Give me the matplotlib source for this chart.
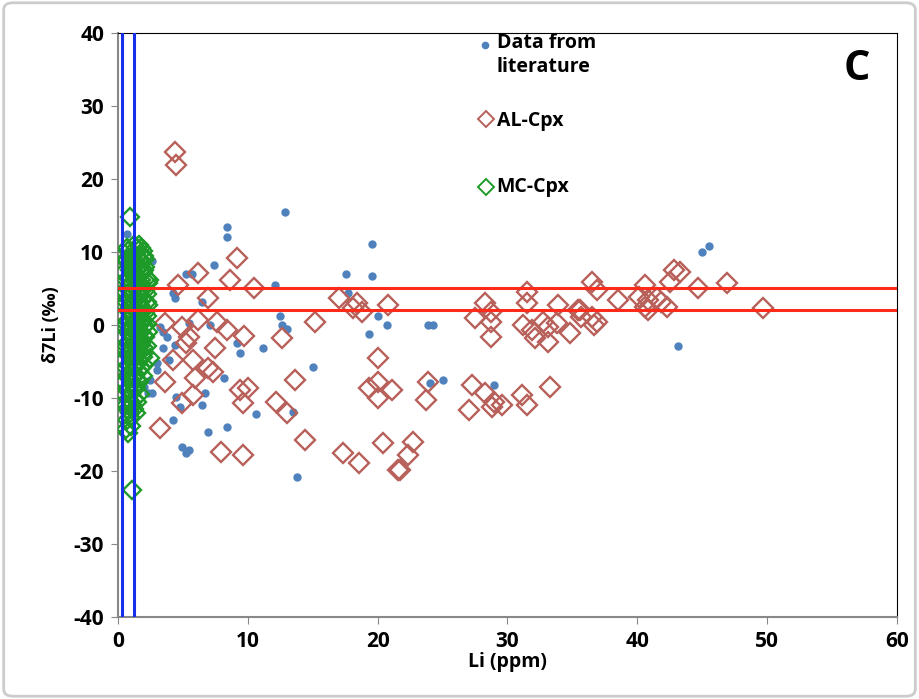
import matplotlib.pyplot as plt
from matplotlib.patches import FancyBboxPatch

plt.rcParams['font.family'] = ['Open Sans', 'DejaVu Sans']
plt.rcParams['font.weight'] = 'bold'
plt.rcParams['axes.unicode_minus'] = False

# Data from literature (blue dots)
lit_li = [12.9, 8.4, 8.4, 2.6, 7.4, 5.2, 5.7, 4.2, 4.4, 6.5, 3.2, 3.5, 3.8, 3.5, 4.4,
          5.5, 7.1, 9.2, 3.0, 3.0, 3.9, 2.5, 2.3, 2.6, 4.5, 4.8, 6.7, 6.5, 8.2, 4.2,
          6.9, 8.4, 4.9, 5.2, 5.5, 19.6, 17.6, 19.6, 12.1, 17.7, 12.5, 12.6, 13.0,
          20.0, 20.7, 19.3, 11.2, 9.4, 15.0, 10.6, 13.5, 13.8, 23.9, 24.3, 24.0, 25.0,
          29.0, 45.0, 45.5, 43.1, 0.7, 1.5, 0.9, 2.0, 1.2, 0.6, 1.8]
lit_d7li = [15.5, 13.4, 12.1, 8.8, 8.2, 7.0, 7.0, 4.4, 3.7, 3.2, -0.3, -1.0, -1.6, -3.2, -2.7,
            0.3, 0.0, -2.5, -5.2, -6.2, -4.8, -7.5, -9.3, -9.3, -9.9, -11.2, -9.3, -11.0, -7.3, -13.0,
            -14.7, -14.0, -16.7, -17.5, -17.1, 11.1, 7.0, 6.7, 5.5, 4.4, 1.2, 0.0, -0.5,
            1.2, 0.0, -1.2, -3.2, -3.8, -5.8, -12.2, -11.9, -20.8, 0.0, 0.0, -8.0, -7.5,
            -8.2, 10.0, 10.8, -2.9, 12.5, 6.0, -3.5, -8.5, -12.0, 9.0, 1.5]

# AL-Cpx (red diamonds)
al_li = [4.4, 4.5, 6.2, 4.6, 6.9, 8.6, 9.2, 6.2, 3.6, 4.9, 7.6, 8.4, 5.2, 5.5, 7.5,
         4.2, 5.8, 6.9, 7.3, 3.6, 5.9, 5.8, 4.9, 3.2, 7.9, 10.5, 17.0, 18.4, 18.8, 18.1,
         20.8, 15.2, 9.7, 12.6, 20.0, 13.6, 9.4, 10.0, 9.6, 12.2, 13.0, 20.0, 19.3, 21.1,
         20.0, 14.4, 17.3, 18.6, 20.4, 21.6, 9.6, 28.3, 28.7, 27.5, 28.7, 28.7, 31.5, 31.5,
         33.9, 31.2, 31.9, 32.7, 33.1, 32.1, 33.1, 33.8, 34.8, 35.6, 23.9, 23.7, 27.3, 28.3,
         29.0, 28.8, 29.6, 27.0, 31.1, 31.5, 33.3, 22.7, 22.3, 21.7, 36.5, 36.9, 38.5, 35.4,
         35.7, 36.5, 36.9, 36.7, 40.6, 40.1, 40.8, 40.6, 41.5, 41.8, 42.3, 42.5, 42.8, 43.3,
         44.7, 46.9, 49.7, 40.8]
al_d7li = [23.7, 21.9, 7.1, 5.5, 3.7, 6.2, 9.2, 0.7, 0.3, -0.3, 0.4, -0.7, -2.5, -1.6, -3.2,
           -4.8, -4.8, -5.9, -6.4, -7.8, -7.3, -9.6, -10.7, -14.1, -17.4, 5.1, 3.7, 3.0, 1.8, 2.3,
           2.7, 0.4, -1.5, -1.8, -4.5, -7.5, -8.9, -8.6, -10.7, -10.5, -12.1, -7.8, -8.6, -8.9,
           -10.0, -15.8, -17.5, -18.9, -16.2, -19.9, -17.8, 3.0, 1.8, 1.0, 0.4, -1.6, 4.5, 3.0,
           2.7, 0.0, -0.7, 0.4, -0.3, -1.8, -2.3, 0.3, -1.1, 2.1, -7.8, -10.3, -8.2, -9.3,
           -10.5, -11.2, -11.0, -11.6, -9.6, -11.0, -8.5, -16.0, -17.8, -19.9, 5.9, 4.8, 3.4, 2.1,
           1.1, 1.1, 0.4, 0.0, 5.5, 3.8, 3.4, 2.5, 3.7, 3.2, 2.5, 5.9, 7.5, 7.3,
           5.1, 5.8, 2.3, 2.1]

# MC-Cpx (green diamonds)
mc_li = [0.9, 1.2, 1.6, 0.8, 1.9, 1.1, 1.5, 2.0, 0.6, 1.3, 1.8, 0.9, 1.6, 2.1,
         0.5, 1.2, 1.9, 0.8, 1.5, 2.2, 0.4, 1.1, 1.7, 2.3, 0.7, 1.4, 2.0,
         0.5, 1.0, 1.6, 2.2, 0.8, 1.3, 1.9, 0.0, 0.5, 1.1, 1.7, 2.3, 0.8, 1.4, 2.0,
         0.4, 1.0, 1.6, 2.2, 0.7, 1.3, 1.9, 0.5, 1.0, 1.5, 2.1, 0.8, 1.3, 1.8, 2.3,
         0.4, 1.1, 1.6, 2.1, 0.7, 1.2, 1.8, 0.5, 1.0, 1.5, 2.0, 0.8, 1.3, 1.9, 2.5,
         0.5, 1.1, 1.6, 0.8, 1.4, 2.0, 0.4, 1.0, 1.6, 0.7, 1.3, 1.9, 0.5, 1.1, 1.6,
         0.8, 1.4, 0.5, 1.0, 1.7, 0.8, 1.3, 0.6, 1.1, 0.9, 1.4, 0.7, 1.0, 0.8, 1.1,
         0.7, 1.4, 1.8, 0.6, 1.0, 1.7, 2.1, 0.9, 1.5, 2.0, 0.6, 1.2, 1.8, 2.4,
         0.9, 1.5, 2.1, 0.6, 1.2, 1.7, 2.2, 0.9, 1.5, 2.1, 0.6, 1.2, 1.8, 2.2,
         0.9, 1.5, 2.0, 0.6, 1.2, 1.7, 2.2, 0.9, 1.4, 1.9, 0.6, 1.2, 1.8,
         0.9, 1.5, 0.7, 1.2, 1.0, 1.5, 0.7, 1.2, 0.9, 0.6]
mc_d7li = [14.8, 11.0, 11.0, 10.2, 10.2, 9.5, 9.5, 9.5, 8.7, 8.7, 8.7, 8.0, 8.0, 8.0,
           7.2, 7.2, 7.2, 6.5, 6.5, 6.5, 5.8, 5.8, 5.8, 5.8, 5.0, 5.0, 5.0,
           4.3, 4.3, 4.3, 4.3, 3.5, 3.5, 3.5, 3.0, 2.8, 2.8, 2.8, 2.8, 2.0, 2.0, 2.0,
           1.3, 1.3, 1.3, 1.3, 0.5, 0.5, 0.5, -0.2, -0.2, -0.2, -0.2, -1.0, -1.0, -1.0, -1.0,
           -1.7, -1.7, -1.7, -1.7, -2.5, -2.5, -2.5, -3.2, -3.2, -3.2, -3.2, -4.0, -4.0, -4.0, -4.5,
           -4.8, -4.8, -4.8, -5.5, -5.5, -5.5, -6.3, -6.3, -6.3, -7.0, -7.0, -7.0, -7.8, -7.8, -7.8,
           -8.6, -8.6, -9.4, -9.4, -9.4, -10.2, -10.2, -11.0, -11.0, -12.0, -12.0, -13.0, -13.8, -14.8, -22.6,
           10.6, 10.6, 10.6, 9.1, 9.1, 9.1, 9.1, 7.6, 7.6, 7.6, 6.1, 6.1, 6.1, 6.1,
           4.7, 4.7, 4.7, 3.2, 3.2, 3.2, 3.2, 1.6, 1.6, 1.6, 0.1, 0.1, 0.1, 0.1,
           -1.4, -1.4, -1.4, -2.9, -2.9, -2.9, -2.9, -4.4, -4.4, -4.4, -5.9, -5.9, -5.9,
           -7.4, -7.4, -8.9, -8.9, -10.6, -10.6, -11.5, -11.5, -12.6, -14.2]

# reference lines
v_lines = [0.3, 1.2]
h_lines = [2, 5]

fig = plt.figure(figsize=(9.19, 6.99), dpi=100)
ax = fig.add_axes([0.1284, 0.1173, 0.8476, 0.8355])

ax.plot(lit_li, lit_d7li, 'o', color='#4F81BD', markersize=5, zorder=3)
ax.plot(al_li, al_d7li, 'D', markerfacecolor='none', markeredgecolor='#B8605A',
        markersize=10, markeredgewidth=1.7, zorder=4)
ax.plot(mc_li, mc_d7li, 'D', markerfacecolor='none', markeredgecolor='#1E9A28',
        markersize=9, markeredgewidth=1.7, zorder=5)

for v in v_lines:
    ax.axvline(v, color='#1530E8', linewidth=2.2, zorder=6)
for h in h_lines:
    ax.axhline(h, color='#FF2A1A', linewidth=2.2, zorder=6)

ax.set_xlim(0, 60)
ax.set_ylim(-40, 40)
ax.set_xticks(range(0, 61, 10))
ax.set_yticks(range(-40, 41, 10))
ax.tick_params(direction='out', length=5, color='#888888', labelsize=15, pad=5)
for lab in ax.get_xticklabels() + ax.get_yticklabels():
    lab.set_fontweight('bold')
ax.spines['left'].set_color('#888888')
ax.spines['bottom'].set_color('#888888')
ax.spines['left'].set_linewidth(1.5)
ax.spines['bottom'].set_linewidth(1.5)
ax.spines['top'].set_color('black')
ax.spines['right'].set_color('black')

ax.set_xlabel('Li (ppm)', fontsize=14, fontweight='bold', labelpad=0)
ax.set_ylabel('δ7Li (‰)', fontsize=13, fontweight='bold', labelpad=10)

# manual legend
ax.plot([0.471], [0.979], 'o', color='#4F81BD', markersize=4.5, transform=ax.transAxes, clip_on=False)
ax.text(0.486, 0.962, 'Data from\nliterature', transform=ax.transAxes, fontsize=14,
        fontweight='bold', va='center', linespacing=1.3)
ax.plot([0.472], [0.853], 'D', markerfacecolor='none', markeredgecolor='#B8605A',
        markersize=8, markeredgewidth=1.4, transform=ax.transAxes)
ax.text(0.486, 0.850, 'AL-Cpx', transform=ax.transAxes, fontsize=14, fontweight='bold', va='center')
ax.plot([0.472], [0.737], 'D', markerfacecolor='none', markeredgecolor='#1E9A28',
        markersize=8, markeredgewidth=1.4, transform=ax.transAxes)
ax.text(0.486, 0.737, 'MC-Cpx', transform=ax.transAxes, fontsize=14, fontweight='bold', va='center')

ax.text(0.949, 0.938, 'C', transform=ax.transAxes, fontsize=30, fontweight='bold',
        ha='center', va='center')

fig.patches.append(FancyBboxPatch((0.004, 0.004), 0.992, 0.992, boxstyle='round,pad=0,rounding_size=0.01',
                                  transform=fig.transFigure, facecolor='none',
                                  edgecolor='#CCCCCC', linewidth=2))

plt.savefig('out.png', dpi=100)
